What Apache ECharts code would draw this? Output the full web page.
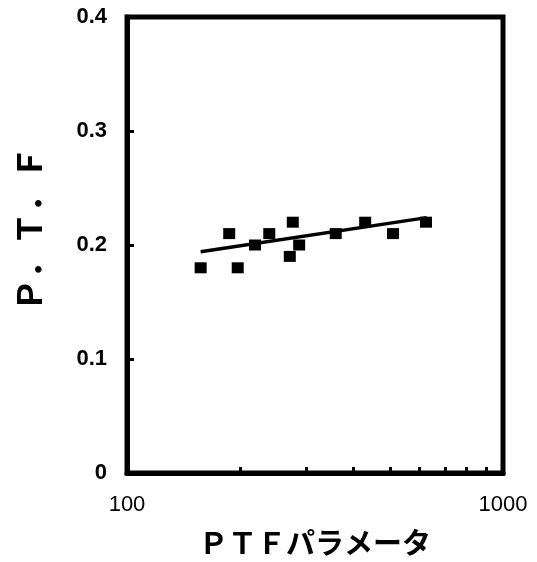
<!DOCTYPE html>
<html>
<head>
<meta charset="utf-8">
<script src="https://cdn.jsdelivr.net/npm/echarts@6/dist/echarts.min.js"></script>
<style>
  html, body { margin: 0; padding: 0; background: #fff; }
  #chart { width: 537px; height: 562px; }
</style>
</head>
<body>
<div id="chart"></div>
<script>
// Measured samples: PTF parameter vs. P.T.F
const ptfParam = [157, 187, 197, 219, 239, 276, 287, 271, 359, 430, 510, 624];
const ptfValue = [0.18, 0.21, 0.18, 0.20, 0.21, 0.22, 0.20, 0.19, 0.21, 0.22, 0.21, 0.22];

// Fitted trend line end points
const fitX = [157, 627];
const fitY = [0.194, 0.224];

// Axis ticks
const xMinorTicks = [200, 300, 400, 500, 600, 700, 800, 900];

const chart = echarts.init(document.getElementById('chart'), null, { renderer: 'canvas' });

const option = {
  animation: false,
  backgroundColor: '#fff',
  grid: {
    left: 127, right: 34, top: 17, bottom: 87,
    show: true, borderColor: '#000', borderWidth: 5, backgroundColor: 'transparent'
  },
  xAxis: {
    type: 'log',
    logBase: 10,
    min: 100,
    max: 1000,
    name: 'ＰＴＦパラメータ',
    nameLocation: 'middle',
    nameGap: 55,
    nameTextStyle: {
      fontFamily: 'Noto Sans CJK JP', fontWeight: 'bold', fontSize: 29, color: '#000'
    },
    axisLine: { show: true, lineStyle: { color: '#000', width: 5 } },
    axisTick: {
      show: true, inside: true, length: 6,
      customValues: xMinorTicks,
      lineStyle: { color: '#000', width: 3 }
    },
    axisLabel: {
      margin: 21,
      fontFamily: 'Liberation Sans', fontSize: 22, color: '#000',
      formatter: v => String(Math.round(v))
    },
    splitLine: { show: false },
    minorTick: { show: false },
    minorSplitLine: { show: false }
  },
  yAxis: {
    type: 'value',
    min: 0,
    max: 0.4,
    interval: 0.1,
    axisLine: { show: true, lineStyle: { color: '#000', width: 5 } },
    axisTick: {
      show: true, inside: true, length: 7,
      lineStyle: { color: '#000', width: 3 }
    },
    axisLabel: {
      margin: 20,
      fontFamily: 'Liberation Sans', fontWeight: 'bold', fontSize: 22, color: '#000',
      formatter: v => (v === 0 ? '0' : v.toFixed(1))
    },
    splitLine: { show: false }
  },
  graphic: [{
    type: 'text',
    x: 29, y: 229,
    rotation: Math.PI / 2,
    style: {
      text: 'Ｐ．Ｔ．Ｆ',
      fontFamily: 'Noto Sans CJK JP', fontWeight: 'bold', fontSize: 33,
      fill: '#000', align: 'center', verticalAlign: 'middle'
    }
  }],
  series: [
    {
      type: 'scatter',
      data: ptfParam.map((x, i) => [x, ptfValue[i]]),
      symbol: 'rect',
      symbolSize: [12, 11],
      itemStyle: { color: '#000', opacity: 1 },
      z: 3
    },
    {
      type: 'line',
      data: fitX.map((x, i) => [x, fitY[i]]),
      showSymbol: false,
      symbol: 'none',
      lineStyle: { color: '#000', width: 3.5 },
      z: 2
    }
  ]
};

chart.setOption(option);
</script>
</body>
</html>
